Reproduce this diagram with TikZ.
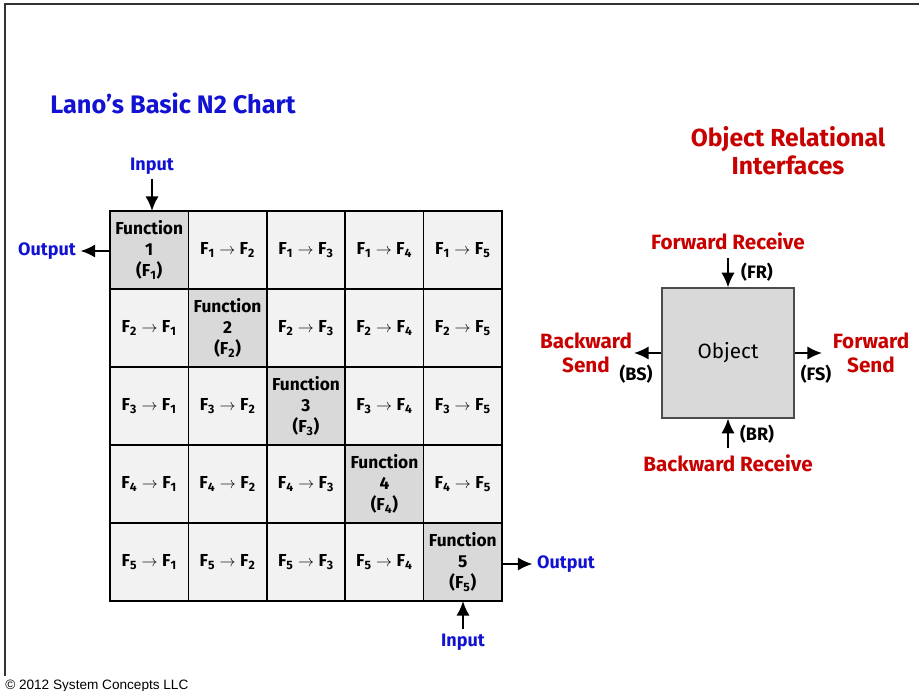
\documentclass[tikz,border=0pt]{standalone}
\usepackage{fontspec}
\setmainfont{Fira Sans}
\newfontfamily\copyfont{Liberation Sans}
\usepackage{tikz}
\usetikzlibrary{arrows.meta}
\definecolor{titleblue}{RGB}{18,18,210}
\definecolor{ifred}{RGB}{200,0,0}
\definecolor{diagfill}{RGB}{217,217,217}
\definecolor{cellfill}{RGB}{242,242,242}

\tikzset{
  cell/.style={draw, line width=1.1pt, fill=cellfill, minimum width=58.8pt, minimum height=58.5pt,
    inner sep=0pt, outer sep=0pt, align=center, font=\bfseries\fontsize{13}{16}\selectfont},
  diag/.style={cell, fill=diagfill},
  flow/.style={line width=1.5pt, -{Latex[length=11pt,width=10pt]}},
  bluetext/.style={text=titleblue, font=\bfseries\fontsize{13.5}{15}\selectfont},
  redtext/.style={text=ifred, align=center, font=\bfseries\fontsize{15.5}{18}\selectfont},
  tagtext/.style={font=\bfseries\fontsize{13.5}{15}\selectfont}
}

\begin{document}
\begin{tikzpicture}[x=0.75pt, y=-0.75pt]
        \useasboundingbox (0,0) rectangle (919,691);

        % page frame
        \draw[line width=1.1pt, black!80] (5,676) -- (5,4) -- (919,4);
        \node[anchor=base west, inner sep=0pt, font=\copyfont\fontsize{10.2}{12}\selectfont] at (5,689) {\textcopyright{} 2012 System Concepts LLC};

        \node[anchor=west, inner sep=0pt, text=titleblue, font=\bfseries\fontsize{19}{21}\selectfont] (title) at (50,103) {Lano’s Basic N2 Chart};
        \node[redtext, font=\bfseries\fontsize{18.5}{21}\selectfont] (ortitle) at (788,151) {Object Relational\\Interfaces};

        % N2 matrix
        \foreach \i in {1,...,5} {
          \foreach \j in {1,...,5} {
            \ifnum\i=\j
              \node[diag] (c\i\j) at ({110+78.4*(\j-0.5)},{211+78*(\i-0.5)}) {Function\\\i\\(F\textsubscript{\i})};
            \else
              \node[cell] (c\i\j) at ({110+78.4*(\j-0.5)},{211+78*(\i-0.5)}) {F\textsubscript{\i}$\;\rightarrow\;$F\textsubscript{\j}};
            \fi
          }
        }

        \node[bluetext] (in1) at (152,166) {Input};
        \node[bluetext] (out1) at (47,251) {Output};
        \node[bluetext] (out5) at (566,564) {Output};
        \node[bluetext] (in5) at (463,642) {Input};

        \draw[flow] (in1.south) -- (in1.south |- c11.north);
        \draw[flow] (c11.west |- out1) -- (out1.east);
        \draw[flow] (c55.east |- out5) -- (out5.west);
        \draw[flow] (in5.north) -- (in5.north |- c55.south);

        % object with its four interfaces
        \node[draw=black!70, line width=0.9pt, fill=diagfill, minimum width=99pt, minimum height=97.5pt,
          font=\fontsize{15.5}{17}\selectfont] (obj) at (728,353) {Object};

        \node[redtext] (fr) at (728,241) {Forward Receive};
        \node[redtext] (br) at (728,463) {Backward Receive};
        \node[redtext] (bs) at (586,353) {Backward\\Send};
        \node[redtext] (fs) at (871,353) {Forward\\Send};

        \coordinate (frtail) at (728,258);
        \coordinate (brtail) at (728,448);
        \coordinate (bshead) at (634,353);
        \coordinate (fshead) at (822,353);

        \draw[flow] (frtail) -- (obj.north);
        \draw[flow] (brtail) -- (obj.south);
        \draw[flow] (obj.west) -- (bshead);
        \draw[flow] (obj.east) -- (fshead);

        \node[tagtext] at (757,272) {(FR)};
        \node[tagtext] at (757,434) {(BR)};
        \node[tagtext] at (636,374) {(BS)};
        \node[tagtext] at (816,374) {(FS)};
    \end{tikzpicture}
\end{document}
